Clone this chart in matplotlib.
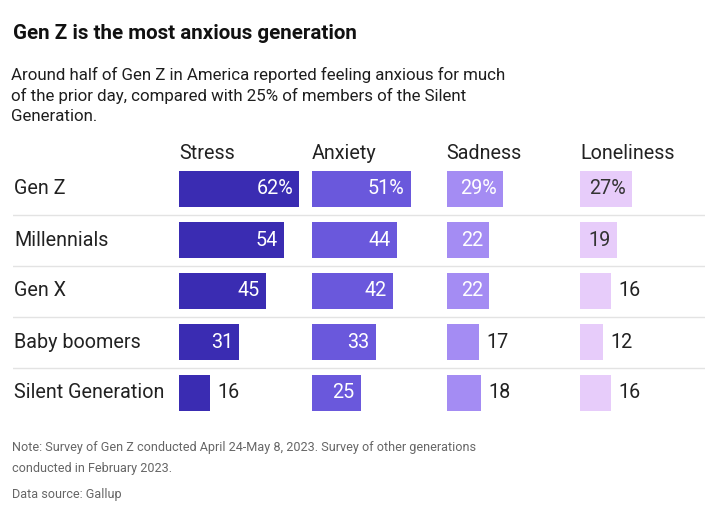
import matplotlib
matplotlib.use("Agg")
import matplotlib.pyplot as plt

plt.rcParams['font.family'] = ['Roboto', 'DejaVu Sans']

title = "Gen Z is the most anxious generation"
subtitle_lines = ["Around half of Gen Z in America reported feeling anxious for much",
                  "of the prior day, compared with 25% of members of the Silent",
                  "Generation."]
note_lines = ["Note: Survey of Gen Z conducted April 24-May 8, 2023. Survey of other generations",
              "conducted in February 2023."]
source = "Data source: Gallup"

generations = ["Gen Z", "Millennials", "Gen X", "Baby boomers", "Silent Generation"]
measures = ["Stress", "Anxiety", "Sadness", "Loneliness"]
stress = [62, 54, 45, 31, 16]
anxiety = [51, 44, 42, 33, 25]
sadness = [29, 22, 22, 17, 18]
loneliness = [27, 19, 16, 12, 16]
values = [stress, anxiety, sadness, loneliness]

colors = ["#3a2cb2", "#6a58dc", "#a48cf3", "#e7ccfa"]
inside_text = ["white", "white", "white", "#333333"]

W, H = 720, 516
fig = plt.figure(figsize=(W / 100, H / 100), dpi=100)
fig.patch.set_facecolor("white")

def fx(px):
    return px / W

def fy(py):
    return 1 - py / H

# rows region
row_top, row_h = 163.5, 51.0
nrows = len(generations)
y0 = fy(row_top + nrows * row_h)
hh = nrows * row_h / H
lab_fs = 14.2

# background axes for separators and row labels
bg = fig.add_axes([fx(13), y0, fx(705 - 13), hh])
bg.set_xlim(0, 1)
bg.set_ylim(nrows - 0.5, -0.5)
bg.axis("off")
for i in range(nrows - 1):
    bg.axhline(i + 0.5, color="#e3e3e3", lw=1)
for i, g in enumerate(generations):
    bg.text(1 / (705 - 13), i, g, ha="left", va="center", fontsize=lab_fs, color="#222222")

panel_left = [179, 312, 446.5, 580]
units = 69
px_per_unit = 1.94
for k, (m, vals) in enumerate(zip(measures, values)):
    ax = fig.add_axes([fx(panel_left[k]), y0, fx(units * px_per_unit), hh], sharey=bg)
    ax.set_xlim(0, units)
    ax.axis("off")
    ax.barh(range(nrows), vals, height=0.69, color=colors[k])
    for i, v in enumerate(vals):
        lab = f"{v}%" if i == 0 else f"{v}"
        if v > 18:
            ax.annotate(lab, (v, i), xytext=(-4.5, 0), textcoords="offset points",
                        ha="right", va="center", fontsize=lab_fs, color=inside_text[k])
        else:
            ax.annotate(lab, (v, i), xytext=(5, 0), textcoords="offset points",
                        ha="left", va="center", fontsize=lab_fs, color="#222222")
    fig.text(fx(panel_left[k]), fy(159), m, ha="left", va="baseline",
             fontsize=lab_fs, color="#222222")

fig.text(fx(13), fy(39), title, ha="left", va="baseline", fontsize=14.8,
         fontweight="bold", color="#111111")
for j, line in enumerate(subtitle_lines):
    fig.text(fx(11), fy(80 + 20.5 * j), line, ha="left", va="baseline", fontsize=12.15,
             color="#1e1e1e")
for j, line in enumerate(note_lines):
    fig.text(fx(12), fy(451 + 21 * j), line, ha="left", va="baseline", fontsize=9.05,
             color="#666666")
fig.text(fx(12), fy(498), source, ha="left", va="baseline", fontsize=9.05,
         color="#666666")

fig.savefig("out.png", dpi=100, facecolor="white")
